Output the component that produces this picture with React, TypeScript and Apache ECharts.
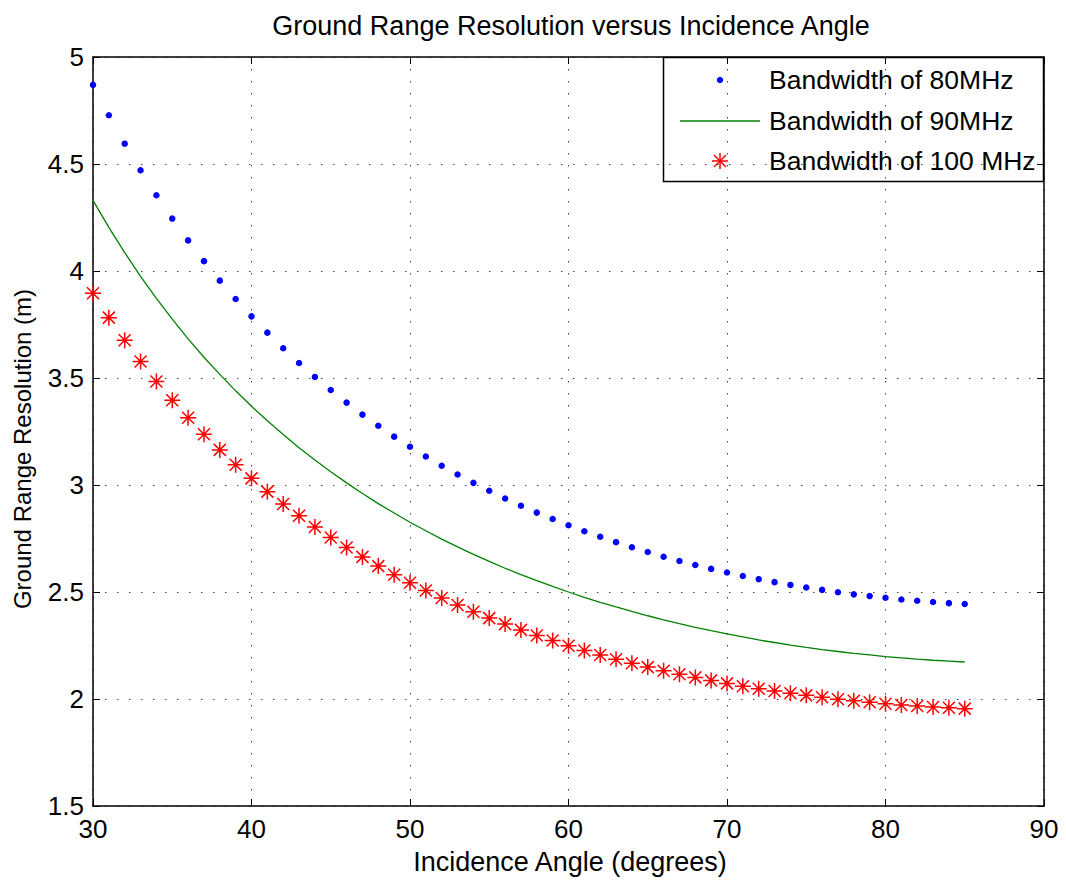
import React, { useEffect, useRef } from 'react';
import * as echarts from 'echarts';

const angles = [30, 31, 32, 33, 34, 35, 36, 37, 38, 39, 40, 41, 42, 43, 44, 45, 46, 47, 48, 49, 50, 51, 52, 53, 54, 55, 56, 57, 58, 59, 60, 61, 62, 63, 64, 65, 66, 67, 68, 69, 70, 71, 72, 73, 74, 75, 76, 77, 78, 79, 80, 81, 82, 83, 84, 85];

const bw80 = [4.870, 4.728, 4.595, 4.471, 4.354, 4.245, 4.143, 4.046, 3.955, 3.869, 3.788, 3.712, 3.639, 3.570, 3.505, 3.444, 3.385, 3.329, 3.277, 3.226, 3.179, 3.133, 3.090, 3.049, 3.010, 2.973, 2.937, 2.903, 2.871, 2.841, 2.812, 2.784, 2.758, 2.733, 2.709, 2.687, 2.665, 2.645, 2.626, 2.608, 2.591, 2.575, 2.560, 2.546, 2.533, 2.521, 2.510, 2.499, 2.489, 2.481, 2.473, 2.465, 2.459, 2.453, 2.448, 2.444];

const bw90 = [4.330, 4.204, 4.086, 3.975, 3.872, 3.775, 3.683, 3.597, 3.517, 3.440, 3.368, 3.300, 3.236, 3.174, 3.117, 3.062, 3.010, 2.960, 2.913, 2.869, 2.826, 2.786, 2.747, 2.711, 2.676, 2.643, 2.611, 2.581, 2.553, 2.526, 2.500, 2.475, 2.452, 2.430, 2.409, 2.389, 2.370, 2.352, 2.335, 2.319, 2.304, 2.290, 2.276, 2.264, 2.252, 2.241, 2.231, 2.222, 2.213, 2.206, 2.198, 2.192, 2.186, 2.181, 2.177, 2.173];

const bw100 = [3.896, 3.782, 3.676, 3.577, 3.484, 3.396, 3.314, 3.237, 3.164, 3.095, 3.031, 2.969, 2.911, 2.856, 2.804, 2.755, 2.708, 2.664, 2.621, 2.581, 2.543, 2.507, 2.472, 2.439, 2.408, 2.378, 2.350, 2.323, 2.297, 2.273, 2.249, 2.227, 2.206, 2.186, 2.167, 2.149, 2.132, 2.116, 2.101, 2.087, 2.073, 2.060, 2.048, 2.037, 2.027, 2.017, 2.008, 1.999, 1.992, 1.985, 1.978, 1.972, 1.967, 1.963, 1.959, 1.955];

const seriesNames = ['Bandwidth of 80MHz', 'Bandwidth of 90MHz', 'Bandwidth of 100 MHz'];
const titleText = 'Ground Range Resolution versus Incidence Angle';
const xName = 'Incidence Angle (degrees)';
const yName = 'Ground Range Resolution (m)';

const FONT = '"Liberation Sans", Arial, Helvetica, sans-serif';

export default function App() {
  const ref = useRef<HTMLDivElement>(null);

  useEffect(() => {
    document.body.style.margin = '0';
    const chart = echarts.init(ref.current!, null, { renderer: 'svg' });
    const pairs = (ys: number[]) => angles.map((a, i) => [a, ys[i]]);
    const star = 'path://M0,-10L0,10M-10,0L10,0M-7.5,-7.5L7.5,7.5M-7.5,7.5L7.5,-7.5';

    const axisLine = { show: true, onZero: false, lineStyle: { color: '#000', width: 1.5 } };
    const axisTick = { show: true, inside: true, length: 7, lineStyle: { color: '#000', width: 1 } };
    const splitLine = { show: true, lineStyle: { color: '#444', width: 1, type: [1.5, 10.5] } };
    const labelStyle = { color: '#000', fontSize: 26, fontFamily: FONT };

    const lx = 663.5, ly = 57.5, lw = 380, lh = 124;
    const rows = [80, 121, 161];
    const textX = 769;
    const symX = 720;
    const sr = 8;

    const textStyle = (t: string, size: number, align: string) => ({
      text: t,
      fill: '#000',
      fontSize: size,
      fontFamily: FONT,
      align,
      verticalAlign: 'middle',
      textAlign: align,
      textVerticalAlign: 'middle',
    });

    chart.setOption({
      animation: false,
      backgroundColor: '#fff',
      grid: { left: 93, right: 22, top: 57, bottom: 76, containLabel: false },
      xAxis: [
        {
          type: 'value', min: 30, max: 90, interval: 10, position: 'bottom',
          axisLine, axisTick, splitLine,
          axisLabel: { ...labelStyle, margin: 10 },
        },
        {
          type: 'value', min: 30, max: 90, interval: 10, position: 'top',
          axisLine, axisTick, splitLine: { show: false }, axisLabel: { show: false },
        },
      ],
      yAxis: [
        {
          type: 'value', min: 1.5, max: 5, interval: 0.5, position: 'left',
          axisLine, axisTick, splitLine,
          axisLabel: { ...labelStyle, margin: 9 },
        },
        {
          type: 'value', min: 1.5, max: 5, interval: 0.5, position: 'right',
          axisLine, axisTick, splitLine: { show: false }, axisLabel: { show: false },
        },
      ],
      series: [
        {
          name: seriesNames[0], type: 'scatter', data: pairs(bw80),
          symbol: 'circle', symbolSize: 6.5,
          itemStyle: { color: '#0000ff', opacity: 1 },
        },
        {
          name: seriesNames[1], type: 'line', data: pairs(bw90),
          showSymbol: false, symbol: 'none',
          lineStyle: { color: '#008000', width: 1.3 },
        },
        {
          name: seriesNames[2], type: 'scatter', data: pairs(bw100),
          symbol: star, symbolSize: 16,
          itemStyle: { color: 'rgba(255,0,0,0)', borderColor: '#ff0000', borderWidth: 1.5, opacity: 1 },
        },
      ],
      graphic: [
        { type: 'text', x: 571, y: 26, style: textStyle(titleText, 27, 'center') },
        { type: 'text', x: 570, y: 862, style: textStyle(xName, 27, 'center') },
        { type: 'text', x: 22, y: 449, rotation: Math.PI / 2, style: textStyle(yName, 24, 'center') },
        {
          type: 'group',
          children: [
            { type: 'rect', shape: { x: lx, y: ly, width: lw, height: lh }, style: { fill: '#fff', stroke: '#000', lineWidth: 1.5 } },
            { type: 'circle', shape: { cx: symX, cy: rows[0], r: 3.2 }, style: { fill: '#0000ff' } },
            { type: 'line', shape: { x1: 680, y1: rows[1], x2: 760, y2: rows[1] }, style: { stroke: '#008000', lineWidth: 1.3 } },
            { type: 'line', shape: { x1: symX, y1: rows[2] - sr, x2: symX, y2: rows[2] + sr }, style: { stroke: '#ff0000', lineWidth: 1.5 } },
            { type: 'line', shape: { x1: symX - sr, y1: rows[2], x2: symX + sr, y2: rows[2] }, style: { stroke: '#ff0000', lineWidth: 1.5 } },
            { type: 'line', shape: { x1: symX - sr * 0.75, y1: rows[2] - sr * 0.75, x2: symX + sr * 0.75, y2: rows[2] + sr * 0.75 }, style: { stroke: '#ff0000', lineWidth: 1.5 } },
            { type: 'line', shape: { x1: symX - sr * 0.75, y1: rows[2] + sr * 0.75, x2: symX + sr * 0.75, y2: rows[2] - sr * 0.75 }, style: { stroke: '#ff0000', lineWidth: 1.5 } },
            { type: 'text', x: textX, y: rows[0], style: textStyle(seriesNames[0], 26.5, 'left') },
            { type: 'text', x: textX, y: rows[1], style: textStyle(seriesNames[1], 26.5, 'left') },
            { type: 'text', x: textX, y: rows[2], style: textStyle(seriesNames[2], 26.5, 'left') },
          ],
        },
      ],
    });

    return () => chart.dispose();
  }, []);

  return <div ref={ref} style={{ width: 1066, height: 882 }} />;
}
